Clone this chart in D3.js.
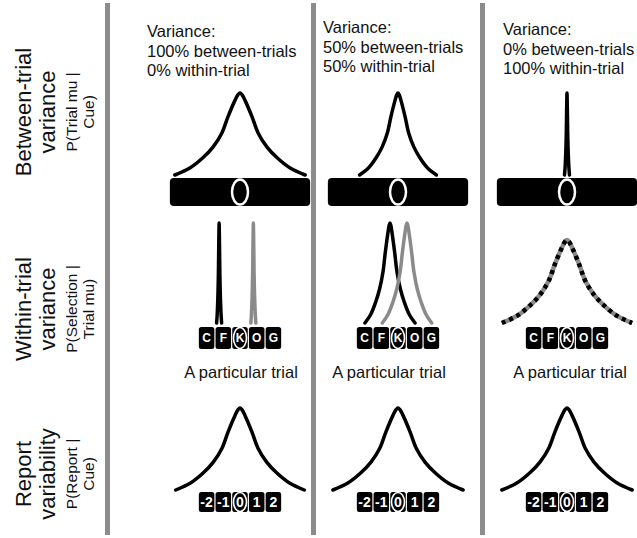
<!DOCTYPE html>
<html>
<head>
<meta charset="utf-8">
<script src="https://cdn.jsdelivr.net/npm/d3@7"></script>
<style>
  body { margin: 0; background: #fff; }
  svg { display: block; }
  text { font-family: "Liberation Sans", Arial, sans-serif; }
</style>
</head>
<body>
<svg id="chart"></svg>
<script>
// ---- data ----
var rowLabels = [
  ["Between-trial", "variance", "P(Trial mu |", "Cue)"],
  ["Within-trial", "variance", "P(Selection |", "Trial mu)"],
  ["Report", "variability", "P(Report |", "Cue)"]
];
var headers = [
  ["Variance:", "100% between-trials", "0% within-trial"],
  ["Variance:", "50% between-trials", "50% within-trial"],
  ["Variance:", "0% between-trials", "100% within-trial"]
];
var letters = ["C", "F", "K", "O", "G"];
var reports = ["-2", "-1", "0", "1", "2"];
var slots = [-2, -1, 0, 1, 2];
var caption = "A particular trial";

// peak shape: [offset / half-width, relative height]
var peakShape = [[-1, 0], [-0.77, 0.085], [-0.57, 0.21], [-0.415, 0.34], [-0.28, 0.51],
  [-0.185, 0.71], [-0.077, 0.91], [-0.03, 0.98], [0, 1], [0.03, 0.98], [0.077, 0.91],
  [0.185, 0.71], [0.28, 0.51], [0.415, 0.34], [0.57, 0.21], [0.77, 0.085], [1, 0]];

// between-trial spread (half-width in letter slots) for each column
var betweenSpread = [3.9, 2.3, 0.15];
// within-trial curves for each column: mean, half-width (slots), height, style
var withinCurves = [
  [{mu: -1.25, spread: 0.15, height: 1, style: "black"}, {mu: 0.8, spread: 0.15, height: 1, style: "gray"}],
  [{mu: -0.48, spread: 1.5, height: 1, style: "black"}, {mu: 0.54, spread: 1.48, height: 1, style: "gray"}],
  [{mu: 0, spread: 3.9, height: 0.83, style: "dashed"}]
];
// report spread for each column
var reportSpread = [3.85, 3.9, 3.9];

// ---- layout ----
var W = 637, H = 538;
var colCenters = [240, 398, 567];
var slotW = 16.7;
var rowMid = [112, 309, 474];
var dividers = [107.5, 313.5, 482.5];
var headerX = [147, 323, 503], headerY = [37, 33, 35];
var captionX = [241, 389, 570];
var rows = {
  between: {base: 175, top: 93},
  within: {base: 323, top: 223},
  report: {base: 490, top: 408}
};

var svg = d3.select("#chart").attr("width", W).attr("height", H);

// vertical gray dividers
svg.selectAll(".divider").data(dividers).enter().append("rect")
  .attr("class", "divider")
  .attr("x", function(d) { return d - 2.5; })
  .attr("y", 3).attr("width", 5).attr("height", 532)
  .attr("fill", "#8c8c8c");

// row labels
var labelX = [31, 55, 77, 94];
var labelSize = [22, 22, 15.5, 15.5];
rowLabels.forEach(function(lines, r) {
  var g = svg.append("g").attr("transform", "translate(0," + rowMid[r] + ")");
  g.selectAll("text").data(lines).enter().append("text")
    .attr("transform", function(d, i) { return "translate(" + labelX[i] + ",0) rotate(-90)"; })
    .attr("text-anchor", "middle")
    .attr("font-size", function(d, i) { return labelSize[i] + "px"; })
    .attr("fill", "#111")
    .text(function(d) { return d; });
});

// column headers
headers.forEach(function(lines, c) {
  svg.append("g").selectAll("text").data(lines).enter().append("text")
    .attr("x", headerX[c])
    .attr("y", function(d, i) { return headerY[c] + i * 19.5; })
    .attr("font-size", "16.5px")
    .attr("fill", "#111")
    .text(function(d) { return d; });
});

function curvePath(x, y, mu, spread, height) {
  var line = d3.line()
    .x(function(p) { return x(mu + p[0] * spread); })
    .y(function(p) { return y(p[1] * height); })
    .curve(d3.curveCatmullRom.alpha(0.5));
  return line(peakShape);
}

function drawCurve(g, d, style, w) {
  if (style === "dashed") {
    g.append("path").attr("d", d).attr("fill", "none")
      .attr("stroke", "#8a8a8a").attr("stroke-width", 4.5);
    g.append("path").attr("d", d).attr("fill", "none")
      .attr("stroke", "#000").attr("stroke-width", 4.5)
      .attr("stroke-dasharray", "4,4");
  } else {
    g.append("path").attr("d", d).attr("fill", "none")
      .attr("stroke", style === "gray" ? "#8a8a8a" : "#000")
      .attr("stroke-width", w || 3.5)
      .attr("stroke-linejoin", "round").attr("stroke-linecap", "round");
  }
}

// a row of black tiles with white labels, the middle one circled
function drawBoxes(parent, x, labels, top, h, fontSize, circled) {
  var g = parent.append("g");
  g.selectAll("rect").data(slots).enter().append("rect")
    .attr("x", function(s) { return x(s) - slotW / 2 + 0.6; })
    .attr("y", top).attr("width", slotW - 1.2).attr("height", h)
    .attr("rx", 2.5).attr("fill", "#000");
  g.append("ellipse")
    .attr("cx", x(circled)).attr("cy", top + h / 2)
    .attr("rx", 6.5).attr("ry", h / 2 - 0.5)
    .attr("fill", "none").attr("stroke", "#fff").attr("stroke-width", 1.6);
  g.selectAll("text").data(slots).enter().append("text")
    .attr("x", function(s) { return x(s); })
    .attr("y", top + h / 2 + fontSize * 0.36)
    .attr("text-anchor", "middle")
    .attr("font-size", fontSize + "px").attr("font-weight", "bold")
    .attr("fill", "#fff")
    .text(function(s, i) { return labels[i]; });
}

colCenters.forEach(function(cx, c) {
  var x = d3.scaleLinear().domain([-1, 1]).range([cx - slotW, cx + slotW]);
  var g = svg.append("g");

  // between-trial: distribution over trial mu, above the cue bar
  var yB = d3.scaleLinear().domain([0, 1]).range([rows.between.base, rows.between.top]);
  drawCurve(g, curvePath(x, yB, 0, betweenSpread[c], 1), "black");
  g.append("rect")
    .attr("x", x(-4.2)).attr("y", 178)
    .attr("width", x(4.2) - x(-4.2)).attr("height", 28)
    .attr("rx", 4).attr("fill", "#000");
  g.append("ellipse")
    .attr("cx", x(0)).attr("cy", 192).attr("rx", 8).attr("ry", 12.5)
    .attr("fill", "#000").attr("stroke", "#fff").attr("stroke-width", 2.5);

  // within-trial: selection given trial mu
  var yW = d3.scaleLinear().domain([0, 1]).range([rows.within.base, rows.within.top]);
  withinCurves[c].forEach(function(wc) {
    drawCurve(g, curvePath(x, yW, wc.mu, wc.spread, wc.height), wc.style);
  });
  drawBoxes(g, x, letters, 327, 22, 12, 0);
  g.append("text")
    .attr("x", captionX[c]).attr("y", 378)
    .attr("text-anchor", "middle").attr("font-size", "16.5px").attr("fill", "#111")
    .text(caption);

  // report variability
  var yR = d3.scaleLinear().domain([0, 1]).range([rows.report.base, rows.report.top]);
  drawCurve(g, curvePath(x, yR, 0, reportSpread[c], 1), "black");
  drawBoxes(g, x, reports, 492, 20, 14, 0);
});
</script>
</body>
</html>
